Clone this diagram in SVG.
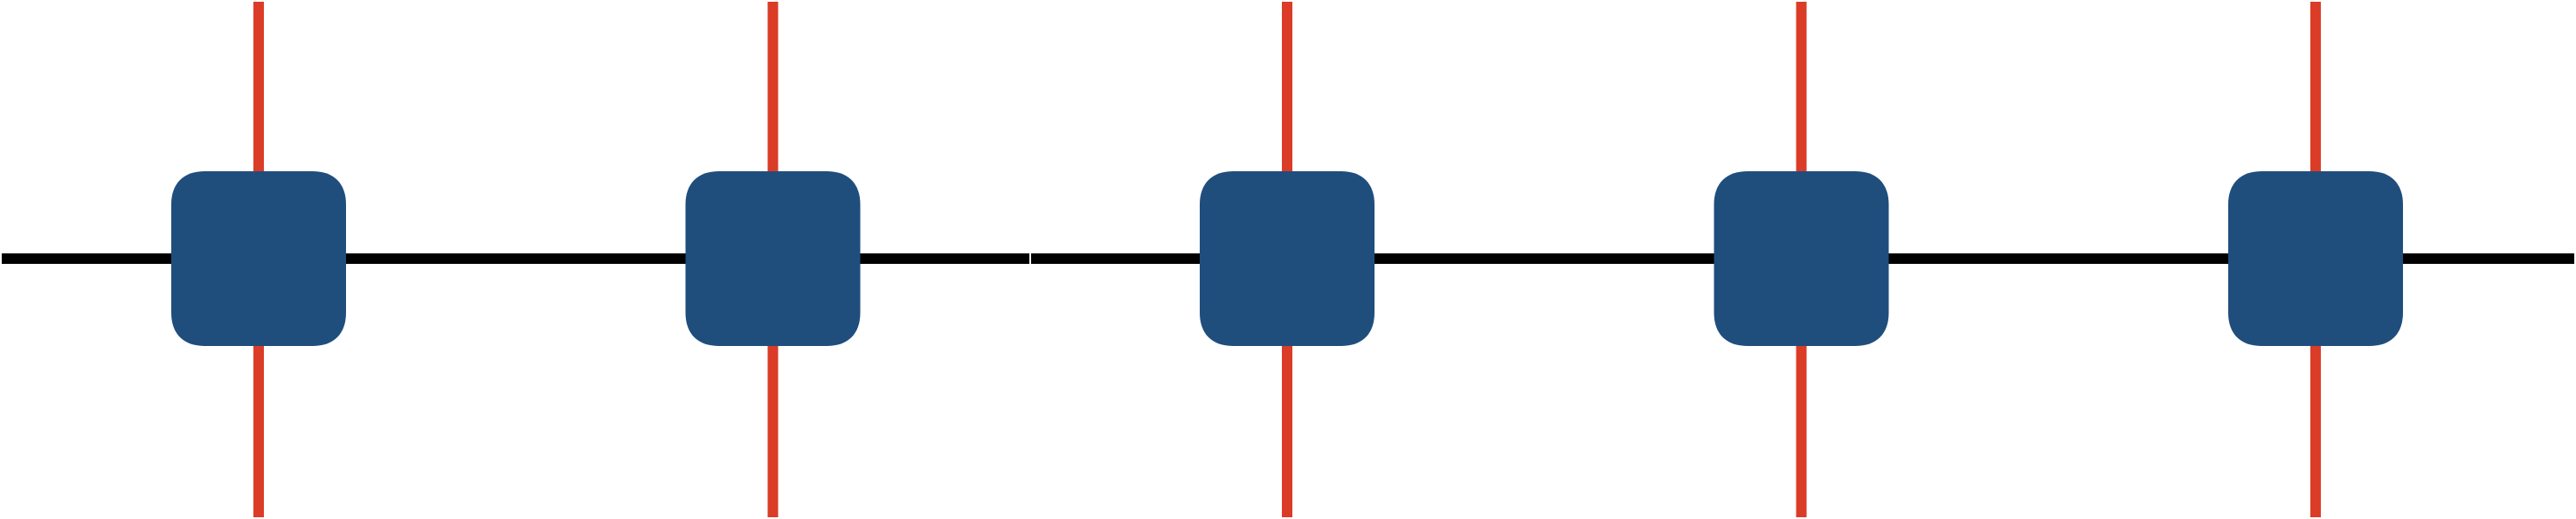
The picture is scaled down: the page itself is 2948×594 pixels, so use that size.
<svg xmlns="http://www.w3.org/2000/svg" width="2948" height="594" viewBox="0 0 2948 594">
<style>
.bus{stroke:#000000;stroke-width:12;fill:none}
.tap{stroke:#DB3C27;stroke-width:12;fill:none}
.node{fill:#1F4E7D}
</style>
<defs>
<path id="sq" class="node" d="M -62,-100 H 62 C 86,-100 100,-86 100,-62 V 62 C 100,86 86,100 62,100 H -62 C -86,100 -100,86 -100,62 V -62 C -100,-86 -86,-100 -62,-100 Z"/>
</defs>
<rect width="2948" height="594" fill="#FFFFFF"/>
<g id="connectors">
<line class="bus" x1="2" y1="296" x2="1178" y2="296"/>
<line class="bus" x1="1180" y1="296" x2="2946" y2="296"/>
<line class="tap" x1="296" y1="2" x2="296" y2="592"/>
<line class="tap" x1="884.5" y1="2" x2="884.5" y2="592"/>
<line class="tap" x1="1473" y1="2" x2="1473" y2="592"/>
<line class="tap" x1="2061.5" y1="2" x2="2061.5" y2="592"/>
<line class="tap" x1="2650" y1="2" x2="2650" y2="592"/>
</g>
<g id="node1"><use href="#sq" x="296" y="296"/></g>
<g id="node2"><use href="#sq" x="884.5" y="296"/></g>
<g id="node3"><use href="#sq" x="1473" y="296"/></g>
<g id="node4"><use href="#sq" x="2061.5" y="296"/></g>
<g id="node5"><use href="#sq" x="2650" y="296"/></g>
</svg>
